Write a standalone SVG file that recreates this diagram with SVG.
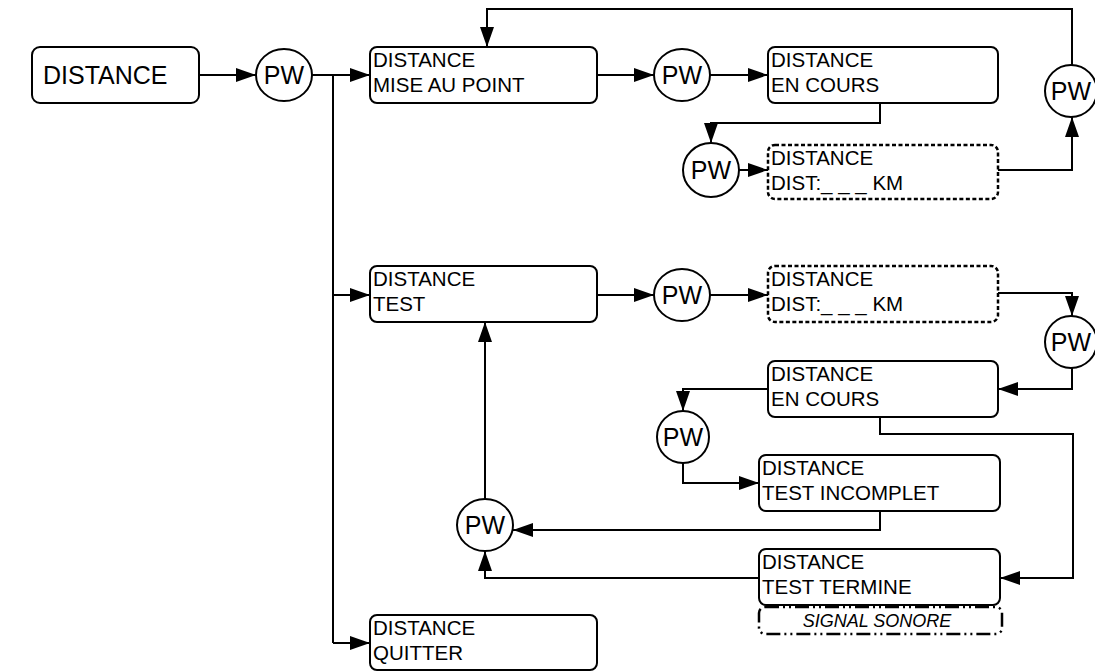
<svg xmlns="http://www.w3.org/2000/svg" width="1095" height="671" viewBox="0 0 1095 671">
<defs>
<marker id="ah" markerUnits="userSpaceOnUse" markerWidth="20" markerHeight="14" refX="20" refY="7" orient="auto">
<path d="M0,0 L20,7 L0,14 z" fill="#000"/>
</marker>
<style>
.box{fill:#fff;stroke:#000;stroke-width:2}
.dash{fill:#fff;stroke:#000;stroke-width:2.5;stroke-dasharray:4 2.5}
.dd{fill:none;stroke:#000;stroke-width:2.5;stroke-dasharray:14 4 2 4 2 4}
.pw{fill:#fff;stroke:#000;stroke-width:2}
.t{font-family:"Liberation Sans",Arial,sans-serif;font-size:20.5px;fill:#000}
.pt{font-family:"Liberation Sans",Arial,sans-serif;font-size:25px;fill:#000;text-anchor:middle}
.c{fill:none;stroke:#000;stroke-width:2}
.a{marker-end:url(#ah)}
</style>
</defs>
<g id="connectors">
<line class="c a" x1="199" y1="75" x2="256" y2="75"/>
<line class="c a" x1="312" y1="75" x2="370" y2="75"/>
<polyline class="c" points="333,75 333,643"/>
<line class="c a" x1="333" y1="295" x2="370" y2="295"/>
<line class="c a" x1="333" y1="643" x2="370" y2="643"/>
<line class="c a" x1="597" y1="75" x2="654" y2="75"/>
<line class="c a" x1="710" y1="75" x2="768" y2="75"/>
<polyline class="c a" points="880,103 880,123 711,123 711,143"/>
<line class="c a" x1="739" y1="170" x2="768" y2="170"/>
<polyline class="c a" points="998,170 1072,170 1072,117"/>
<polyline class="c a" points="1072,65 1072,9 487,9 487,47"/>
<line class="c a" x1="597" y1="295" x2="654" y2="295"/>
<line class="c a" x1="710" y1="295" x2="768" y2="295"/>
<polyline class="c a" points="998,293 1072,293 1072,316"/>
<polyline class="c a" points="1072,368 1072,389 998,389"/>
<polyline class="c a" points="768,389 683,389 683,411"/>
<polyline class="c a" points="683,463 683,483 759,483"/>
<polyline class="c a" points="880,511 880,530 513,530"/>
<polyline class="c a" points="880,417 880,434 1073,434 1073,578 1000,578"/>
<polyline class="c a" points="759,578 485,578 485,551"/>
<line class="c a" x1="485" y1="499" x2="485" y2="322"/>
</g>
<g id="n_distance"><rect class="box" x="32" y="47" width="167" height="56" rx="8"/><text class="t" x="43" y="84" style="font-size:25px">DISTANCE</text></g>
<g id="n_mise"><rect class="box" x="370" y="47" width="227" height="56" rx="7"/><text class="t" x="373" y="67">DISTANCE</text><text class="t" x="373" y="92">MISE AU POINT</text></g>
<g id="n_encours1"><rect class="box" x="768" y="47" width="230" height="56" rx="7"/><text class="t" x="771" y="67">DISTANCE</text><text class="t" x="771" y="92">EN COURS</text></g>
<g id="n_dist1"><rect class="dash" x="768" y="145" width="230" height="54" rx="7"/><text class="t" x="771" y="165">DISTANCE</text><text class="t" x="771" y="190">DIST:_ _ _ KM</text></g>
<g id="n_test"><rect class="box" x="370" y="266" width="227" height="56" rx="7"/><text class="t" x="373" y="286">DISTANCE</text><text class="t" x="373" y="311">TEST</text></g>
<g id="n_dist2"><rect class="dash" x="768" y="266" width="230" height="56" rx="7"/><text class="t" x="771" y="286">DISTANCE</text><text class="t" x="771" y="311">DIST:_ _ _ KM</text></g>
<g id="n_encours2"><rect class="box" x="768" y="361" width="230" height="56" rx="7"/><text class="t" x="771" y="381">DISTANCE</text><text class="t" x="771" y="406">EN COURS</text></g>
<g id="n_incomplet"><rect class="box" x="759" y="455" width="241" height="56" rx="7"/><text class="t" x="762" y="475">DISTANCE</text><text class="t" x="762" y="500">TEST INCOMPLET</text></g>
<g id="n_termine"><rect class="box" x="759" y="549" width="241" height="56" rx="7"/><text class="t" x="762" y="569">DISTANCE</text><text class="t" x="762" y="594">TEST TERMINE</text></g>
<g id="n_signal"><rect class="dd" x="759" y="607" width="243" height="27" rx="6"/><text class="t" x="877" y="627" style="font-style:italic;font-size:18px;text-anchor:middle">SIGNAL SONORE</text></g>
<g id="n_quitter"><rect class="box" x="370" y="615" width="227" height="55" rx="7"/><text class="t" x="373" y="635">DISTANCE</text><text class="t" x="373" y="660">QUITTER</text></g>
<g id="pw1"><ellipse class="pw" cx="284" cy="75" rx="28" ry="26"/><text class="pt" x="284" y="84">PW</text></g>
<g id="pw2"><ellipse class="pw" cx="682" cy="75" rx="28" ry="26"/><text class="pt" x="682" y="84">PW</text></g>
<g id="pw3"><ellipse class="pw" cx="1071" cy="91" rx="26" ry="26"/><text class="pt" x="1071" y="100">PW</text></g>
<g id="pw4"><ellipse class="pw" cx="711" cy="170" rx="28" ry="27"/><text class="pt" x="711" y="179">PW</text></g>
<g id="pw5"><ellipse class="pw" cx="682" cy="295" rx="28" ry="26"/><text class="pt" x="682" y="304">PW</text></g>
<g id="pw6"><ellipse class="pw" cx="1071" cy="342" rx="26" ry="26"/><text class="pt" x="1071" y="351">PW</text></g>
<g id="pw7"><ellipse class="pw" cx="683" cy="437" rx="26" ry="26"/><text class="pt" x="683" y="446">PW</text></g>
<g id="pw8"><ellipse class="pw" cx="485" cy="525" rx="28" ry="26"/><text class="pt" x="485" y="534">PW</text></g>
</svg>
